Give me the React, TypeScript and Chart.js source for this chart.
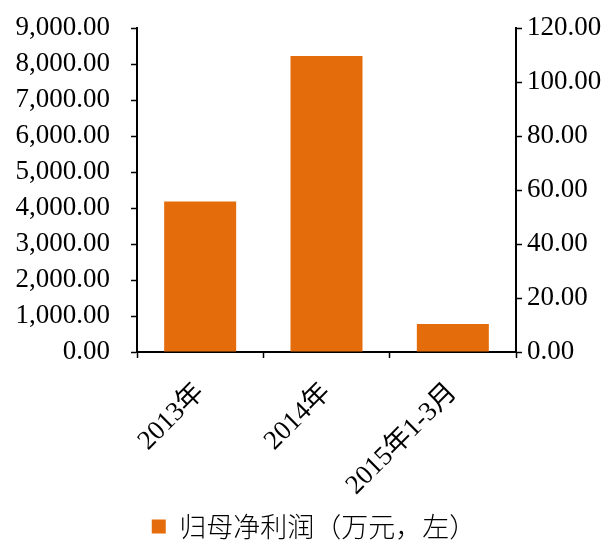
import React, { useEffect, useRef } from "react";
import { Chart, registerables } from "chart.js";

Chart.register(...registerables);

const categories: string[] = ["2013年", "2014年", "2015年1-3月"];
const netProfit: number[] = [4180, 8230, 780];
const seriesLabel = "归母净利润（万元，左）";
const leftTicks: number[] = [0, 1000, 2000, 3000, 4000, 5000, 6000, 7000, 8000, 9000];
const rightTicks: number[] = [0, 20, 40, 60, 80, 100, 120];

const fmt = (v: number) =>
  v.toLocaleString("en-US", { minimumFractionDigits: 2, maximumFractionDigits: 2 });

const FONT = "'Liberation Serif', 'Noto Sans CJK SC', serif";

export default function App() {
  const ref = useRef<HTMLCanvasElement | null>(null);
  useEffect(() => {
    document.body.style.margin = "0";
    if (!ref.current) return;
    const chart = new Chart(ref.current, {
      type: "bar",
      data: {
        labels: categories,
        datasets: [
          {
            label: seriesLabel,
            data: netProfit,
            backgroundColor: "#E46C0A",
            borderWidth: 0,
            yAxisID: "y",
            categoryPercentage: 1,
            barPercentage: 0.57,
          },
        ],
      },
      options: {
        animation: false,
        responsive: false,
        layout: { padding: { top: 10, left: 12, right: 0, bottom: 0 } },
        plugins: {
          tooltip: { enabled: false },
          legend: {
            position: "bottom",
            labels: {
              font: { family: "'Noto Sans CJK SC', sans-serif", size: 27, weight: 300 },
              color: "#000",
              boxWidth: 14,
              boxHeight: 14,
              padding: 2,
            },
          },
        },
        scales: {
          x: {
            afterFit: (axis: any) => {
              axis.height = 159;
            },
            grid: {
              display: true,
              drawOnChartArea: false,
              offset: true,
              color: "#000",
              tickLength: 6,
              tickWidth: 1.5,
            },
            border: { color: "#000", width: 2 },
            ticks: {
              color: "#000",
              font: { family: FONT, size: 27 },
              maxRotation: 45,
              minRotation: 45,
              padding: 19,
              autoSkip: false,
            },
          },
          y: {
            position: "left",
            min: 0,
            max: leftTicks[leftTicks.length - 1],
            afterBuildTicks: (axis: any) => {
              axis.ticks = leftTicks.map((v) => ({ value: v }));
            },
            afterFit: (axis: any) => {
              axis.width = 125;
            },
            grid: {
              display: true,
              drawOnChartArea: false,
              color: "#000",
              tickLength: 6,
              tickWidth: 1.5,
            },
            border: { color: "#000", width: 2 },
            ticks: {
              color: "#000",
              font: { family: FONT, size: 27 },
              callback: (v: any) => fmt(Number(v)),
              padding: 21,
              autoSkip: false,
            },
          },
          y1: {
            position: "right",
            min: 0,
            max: rightTicks[rightTicks.length - 1],
            afterBuildTicks: (axis: any) => {
              axis.ticks = rightTicks.map((v) => ({ value: v }));
            },
            afterFit: (axis: any) => {
              axis.width = 100;
            },
            grid: {
              display: true,
              drawOnChartArea: false,
              color: "#000",
              tickLength: 6,
              tickWidth: 1.5,
            },
            border: { color: "#000", width: 2 },
            ticks: {
              color: "#000",
              font: { family: FONT, size: 27 },
              callback: (v: any) => fmt(Number(v)),
              padding: 5,
              autoSkip: false,
            },
          },
        },
      },
    });
    return () => chart.destroy();
  }, []);
  return (
    <div style={{ width: 616, height: 550, overflow: "hidden" }}>
      <canvas
        ref={ref}
        width={616}
        height={559}
        style={{ display: "block", width: 616, height: 559, marginTop: -9 }}
      />
    </div>
  );
}
